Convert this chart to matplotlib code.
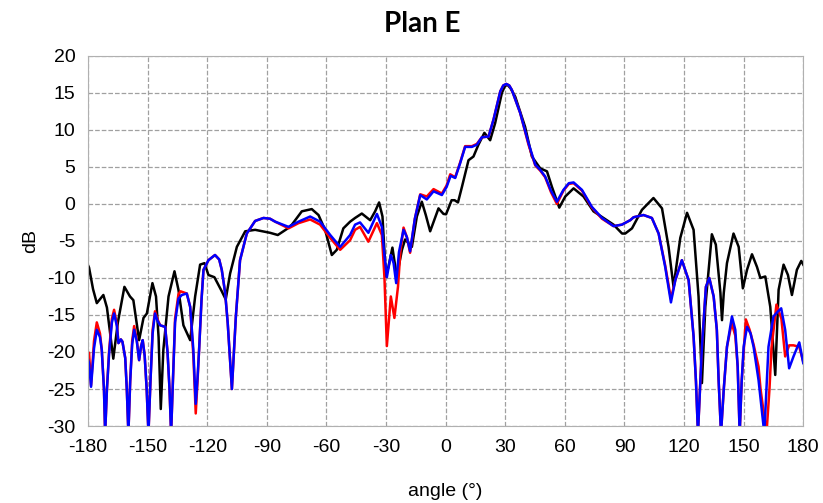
import matplotlib.pyplot as plt

# mesure (noir)
ang_k = [-180, -179.5, -177.5, -175.6, -172.3, -170.5, -167.3, -165, -161.7, -158.9, -157.2,
         -154.3, -152.1, -150.4, -147.6, -145.8, -144.5, -143.4, -142.1, -139.5, -136.5,
         -134.5, -132.0, -128.6, -126.1, -123.6, -121.4, -119.4, -116.4, -112.7, -110.7,
         -108.5, -105.1, -100.9, -95.9, -88.4, -84.5, -80, -77.4, -72.4, -67.4, -64.0,
         -60.7, -57.3, -54.8, -51.5, -48.1, -45.6, -42.2, -38.0, -35.5, -33.5, -31.8,
         -30.1, -28.8, -26.8, -24.6, -22.0, -20.4, -17.0, -14.5, -12.0, -10, -7.8, -5.5,
         -3.6, -1.1, 0.2, 3.0, 4.5, 6.2, 8.2, 11.5, 14.0, 16.5, 19.5, 22.4, 24.9, 28.3,
         29.8, 31.1, 32.7, 35.0, 40.0, 43.4, 47.6, 51.0, 53.5, 57.2, 60.2, 64.4, 69.4, 74.4, 79.5,
         84.5, 88.8, 90.4, 93.8, 98.8, 104.6, 108.9, 112.2, 114.7, 118.1, 121.5, 124.8,
         127.3, 129.0, 130.7, 134.0, 136.0, 138.3, 139.1, 140.0, 141.6, 144.9, 147.5,
         149.6, 151.7, 154.2, 156.7, 158.4, 160.9, 163.4, 165.9, 167.6, 170.1, 172.3,
         174.3, 176.8, 179.0, 180]
db_k = [-8.3, -8.6, -11.5, -13.4, -12.3, -14, -20.9, -16, -11.2, -12.5, -13.0,
        -18.4, -15.4, -14.8, -10.7, -12.5, -18, -27.7, -19.7, -12.5, -9.1,
        -11.6, -16.4, -18.4, -12.5, -8.2, -8.0, -9.6, -9.9, -11.8, -12.9,
        -9.4, -5.8, -3.7, -3.5, -3.9, -4.2, -3.4, -2.8, -1.0, -0.7, -1.5,
        -3.5, -6.9, -6.2, -3.3, -2.4, -1.9, -1.3, -2.2, -1.0, 0.2, -1.7,
        -9.8, -8.5, -5.9, -9.8, -6.2, -4.8, -5.8, -1.7, 0.3, -1.5, -3.7, -2.0,
        -0.6, -1.35, -1.4, 0.5, 0.5, 0.2, 2.3, 5.9, 6.4, 8.0, 9.6, 8.6, 10.9, 15.0,
        15.9, 16.1, 15.6, 14.5, 10.4, 6.4, 4.8, 4.4, 2.3, -0.5, 1.0, 2.1, 1.0, -1.0, -1.9,
        -2.8, -4.0, -4.0, -3.3, -0.8, 0.8, -0.6, -5.8, -11.2, -4.6, -1.2, -3.5,
        -12.5, -24.2, -13.9, -4.1, -5.5, -12.0, -15.7, -12.0, -8.0, -4.0, -5.8,
        -11.4, -8.9, -6.8, -8.5, -10.0, -9.8, -13.9, -23.1, -11.6, -8.2, -9.6,
        -12.3, -8.9, -7.7, -8.2]

# simulation 1 (bleu)
ang_b = [-180, -179.5, -178.5, -177, -175.6, -174, -173.1, -172, -171.4, -170.5, -169.4,
         -168, -166.9, -165.5, -164.7, -163.5, -162.7, -161.3, -160.5, -159.7, -158.8,
         -157.8, -156.8, -155.5, -154.3, -153.3, -152.5, -151.5, -150.5, -149.6, -148.6,
         -147.5, -146.3, -145, -143.7, -141.2, -140, -139, -138.2, -137.3, -136.2, -134.5,
         -132.8, -130.3, -128.6, -127.0, -125.8, -124.9, -124.1, -122.9, -121.9, -119.4,
         -116.1, -114, -112.7, -111, -109.7, -107.6, -105.6, -103.5, -100.1, -95.9, -91.7,
         -88.4, -85.8, -79.1, -74.1, -68.2, -63.2, -58.1, -53.1, -48.1, -45.6, -43.1,
         -38.9, -34.6, -32.1, -30.8, -29.6, -27.6, -26.2, -24.9, -23.5, -21.2, -19.5,
         -17.9, -15.5, -12.8, -9.5, -6.1, -1.9, 0.5, 2.5, 4.8, 7.3, 9.8, 13.2, 15.7, 18.2,
         21.6, 24.1, 27.5, 29.0, 30.5, 32.0, 33.3, 37.5, 41.7, 45.1, 47.6, 50.1, 53, 56.0, 59.3, 62,
         64.4, 68.6, 73.6, 78.7, 84.5, 88.7, 92.9, 94.6, 99.6, 103.8, 107.2, 110.5, 113.4,
         115.6, 118.9, 122.3, 124.8, 126, 127.0, 128, 129.0, 131.0, 132.7, 134.9, 136.5,
         137.4, 138.6, 140, 141.6, 144.1, 145.8, 147, 148.0, 149, 150.0, 151.7, 153.5,
         155.0, 157.5, 159.2, 160.4, 161.5, 162.5, 165.0, 167, 168.9, 170.9, 172.9, 175.1,
         178.0, 180]
db_b = [-21, -21.5, -24.7, -19.5, -17.0, -18, -19.7, -25, -31, -25, -20.2,
        -16, -14.8, -16.5, -18.8, -18.3, -18.6, -20.8, -25, -31, -24,
        -19, -17.0, -18.5, -21.1, -19.2, -18.4, -20.5, -25, -31, -24,
        -17.5, -14.8, -15.8, -16.4, -16.6, -20, -25, -31, -24, -16, -12.8,
        -12.3, -12.1, -13.9, -19.7, -27.0, -23.5, -19.7, -13, -8.9, -7.6,
        -6.9, -7.5, -8.9, -12, -16.1, -25.0, -15.2, -7.6, -4.0, -2.3, -1.9,
        -2.0, -2.4, -3.1, -2.4, -1.7, -2.4, -4.2, -5.8, -4.2, -2.8, -2.5,
        -3.9, -1.35, -3.1, -7, -9.9, -6.9, -8, -10.7, -6.5, -3.5, -4.5,
        -6.4, -2, 1.2, 0.6, 1.7, 1.2, 2.3, 3.8, 3.5, 5.5, 7.7, 7.7, 8.0, 9.0,
        9.1, 11.4, 15.2, 16.0, 16.2, 16.0, 15.4, 12.3, 8.2, 5.3, 4.6, 3.7, 1.8, 0.3, 1.9, 2.8,
        2.9, 1.9, -0.4, -1.9, -3.0, -2.8, -2.2, -1.8, -1.5, -1.9, -4.0, -8.5, -13.3,
        -10.3, -7.6, -10.3, -17.9, -24, -31, -25, -19.3, -11.2, -10.0, -12.5, -17,
        -23.8, -31, -25, -19.3, -15.2, -17.0, -22, -31, -24, -19.3, -16.6, -17.5,
        -19.3, -23.8, -28, -31, -25, -19.3, -15.2, -14.6, -14.1, -17.0, -22.2, -20.6,
        -18.7, -21.5]

# simulation 2 (rouge)
ang_r = [-180, -179.5, -178.5, -177, -175.6, -174, -173.1, -172, -171.4, -170.5, -169.4,
         -168, -166.9, -165.5, -164.7, -163.5, -162.7, -161.3, -160.5, -159.7, -158.8,
         -157.8, -156.8, -155.5, -154.3, -153.3, -152.5, -151.5, -150.5, -149.6, -148.6,
         -147.5, -146.3, -145, -143.7, -141.2, -140, -139, -138.2, -137.3, -136.2, -134.5,
         -133.5, -130.3, -128.6, -127.0, -125.8, -124.9, -124.1, -122.9, -121.9, -119.4,
         -116.1, -114, -112.7, -111, -109.7, -107.6, -105.6, -103.5, -100.1, -95.9, -91.7,
         -88.4, -85.8, -79.1, -74.1, -68.2, -63.2, -58.1, -53.1, -48.1, -45.6, -43.1,
         -38.9, -34.6, -32.1, -30.8, -29.6, -27.6, -25.8, -24.0, -22.8, -21.2, -19.5,
         -17.9, -15.5, -12.8, -9.5, -6.1, -1.9, 0.5, 2.3, 4.8, 7.3, 9.8, 13.2, 15.7, 18.2,
         21.6, 24.1, 27.5, 29.0, 30.5, 32.0, 33.3, 37.5, 41.7, 45.1, 47.6, 50.1, 53, 56.0, 59.3, 62,
         64.4, 68.6, 73.6, 78.7, 84.5, 88.7, 92.9, 94.6, 99.6, 103.8, 107.2, 110.5, 113.4,
         115.6, 118.9, 122.3, 124.8, 126, 127.0, 128, 129.0, 131.0, 132.7, 134.9, 136.5,
         137.4, 138.6, 140, 141.6, 144.0, 145.8, 147, 148.0, 149, 151.1, 153.0, 155.0,
         157.5, 158.5, 160, 161.5, 163, 164, 166.5, 169, 170.9, 172.9, 175.1, 178.0, 180]
db_r = [-20.5, -20.1, -24.5, -18.5, -16.0, -17.5, -19.7, -25, -31, -25, -19.8,
        -15.5, -14.3, -16.2, -18.8, -18.3, -18.6, -20.8, -25, -31, -24,
        -18.5, -16.5, -18.3, -21.1, -19.2, -18.4, -20.5, -25, -31, -24,
        -17.0, -14.5, -15.6, -16.4, -16.6, -20, -25, -31, -24, -15.5, -12.2,
        -11.8, -12.1, -13.9, -20.5, -28.3, -24, -19.7, -13, -8.9, -7.6,
        -6.9, -7.5, -8.9, -12, -16.1, -25.0, -15.2, -7.6, -4.0, -2.3, -1.9,
        -2.0, -2.4, -3.3, -2.6, -2.1, -2.8, -4.6, -6.2, -4.9, -3.5, -3.1,
        -5.1, -2.6, -4.2, -10, -19.2, -12.5, -15.4, -11.2, -6.5, -3.2, -4.5,
        -6.6, -2, 1.3, 1.0, 2.0, 1.4, 2.5, 4.0, 3.6, 5.6, 7.8, 7.8, 8.1, 9.0,
        9.1, 11.4, 15.2, 16.0, 16.2, 16.0, 15.4, 12.3, 8.0, 5.2, 4.5, 3.6, 1.6, 0.0, 1.8, 2.7,
        2.8, 1.8, -0.5, -2.0, -3.0, -2.8, -2.2, -1.8, -1.5, -1.9, -4.0, -8.3, -12.8,
        -10.3, -7.6, -10.3, -17.9, -24, -31, -25, -19.3, -11.2, -10.0, -12.5, -17,
        -23.8, -31, -25, -19.3, -16.1, -17.8, -22, -31, -24, -15.6, -17.0, -19.0,
        -22, -25, -28, -31, -25, -19.5, -13.6, -15.5, -20.6, -19.1, -19.1, -19.3, -21.3]

plt.rcParams["font.family"] = ["Liberation Sans", "DejaVu Sans"]
plt.rcParams["axes.unicode_minus"] = False

fig = plt.figure(figsize=(8.23, 5.03), dpi=100)
ax = fig.add_axes([0.107, 0.153, 0.869, 0.736])

ax.plot(ang_k, db_k, color="black", lw=1.8, solid_joinstyle="round")
ax.plot(ang_r, db_r, color="red", lw=1.8, solid_joinstyle="round")
ax.plot(ang_b, db_b, color="blue", lw=1.8, solid_joinstyle="round")

ax.set_xlim(-180, 180)
ax.set_ylim(-30, 20)
ax.set_xticks(range(-180, 181, 30))
ax.set_yticks(range(-30, 21, 5))
ax.grid(True, linestyle="--", color="#a0a0a0", lw=0.9)
ax.tick_params(length=0, labelsize=14, pad=9)
for s in ax.spines.values():
    s.set_color("#b0b0b0")

# titre centré sur la figure
fig.text(0.513, 0.952, "Plan E", fontsize=20, fontweight="bold", family="Lato",
         ha="center", va="center")
ax.set_xlabel("angle (°)", fontsize=14, labelpad=20)
ax.set_ylabel("dB", fontsize=14, labelpad=6)

plt.savefig("out.png")
